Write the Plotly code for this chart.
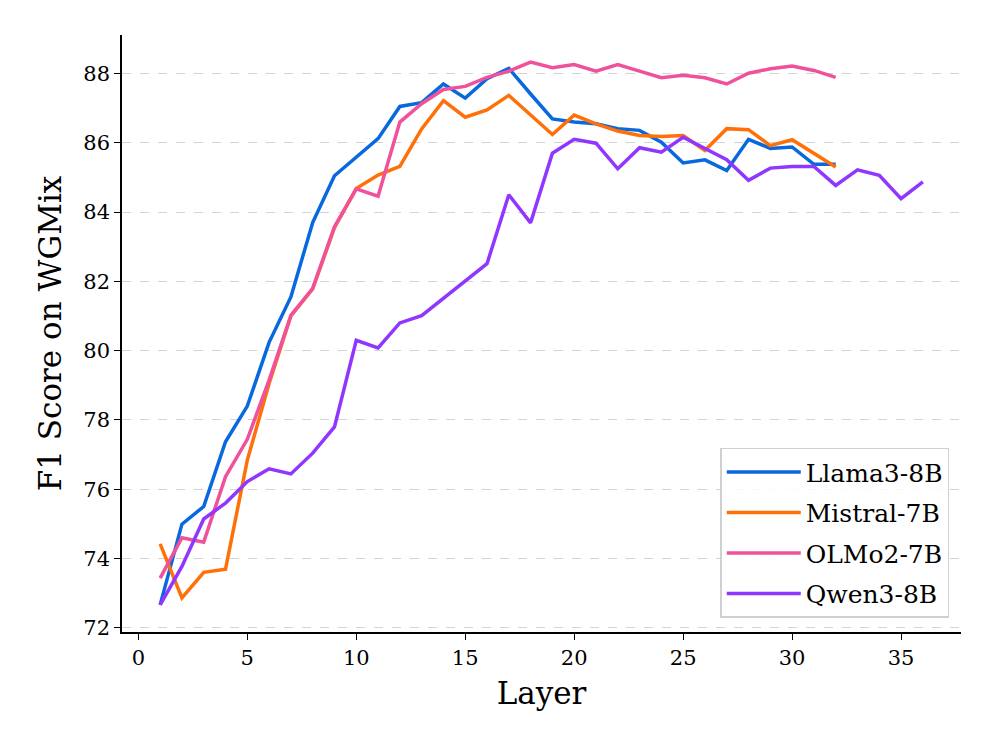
import plotly.graph_objects as go

layers_32 = list(range(1, 33))
layers_36 = list(range(1, 37))

llama = [72.66, 74.99, 75.50, 77.37, 78.40, 80.24, 81.55, 83.70, 85.05, 85.57,
         86.12, 87.05, 87.16, 87.70, 87.29, 87.85, 88.15, 87.41, 86.69, 86.60,
         86.55, 86.41, 86.36, 86.02, 85.42, 85.51, 85.20, 86.10, 85.84, 85.88,
         85.38, 85.38]
mistral = [74.42, 72.86, 73.60, 73.69, 76.84, 79.05, 81.00, 81.78, 83.55, 84.68,
           85.07, 85.32, 86.40, 87.22, 86.74, 86.95, 87.37, 86.79, 86.24, 86.80,
           86.55, 86.34, 86.21, 86.18, 86.21, 85.78, 86.41, 86.38, 85.92, 86.09,
           85.70, 85.30]
olmo = [73.43, 74.60, 74.47, 76.36, 77.44, 79.15, 81.02, 81.80, 83.58, 84.67,
        84.46, 86.60, 87.13, 87.54, 87.63, 87.89, 88.07, 88.33, 88.17, 88.26,
        88.07, 88.26, 88.07, 87.88, 87.95, 87.88, 87.70, 88.01, 88.14, 88.22,
        88.09, 87.89]
qwen = [72.66, 73.77, 75.14, 75.60, 76.22, 76.59, 76.44, 77.04, 77.80, 80.30,
        80.08, 80.80, 81.01, 81.50, 82.00, 82.51, 84.50, 83.69, 85.70, 86.10,
        85.99, 85.25, 85.86, 85.73, 86.16, 85.83, 85.51, 84.92, 85.27, 85.32,
        85.32, 84.77, 85.22, 85.06, 84.39, 84.87]

names = ["Llama3-8B", "Mistral-7B", "OLMo2-7B", "Qwen3-8B"]
colors = ["#0868DE", "#FF7008", "#EF529B", "#9136FF"]

x_ticks = [0, 5, 10, 15, 20, 25, 30, 35]
y_ticks = [72, 74, 76, 78, 80, 82, 84, 86, 88]

series = [(layers_32, llama), (layers_32, mistral), (layers_32, olmo), (layers_36, qwen)]

fig = go.Figure()
for (xs, ys), name, color in zip(series, names, colors):
    fig.add_trace(go.Scatter(x=xs, y=ys, mode="lines", name=name, legendgroup=name,
                             line=dict(color=color, width=3.5)))

all_y = llama + mistral + olmo + qwen
ymin, ymax = min(all_y), max(all_y)
ypad = (ymax - ymin) * 0.05
xmin, xmax = 1, 36
xpad = (xmax - xmin) * 0.05

font_family = "DejaVu Serif"
fig.update_layout(
    width=988, height=739,
    margin=dict(l=114, r=35, t=27, b=115),
    plot_bgcolor="white", paper_bgcolor="white",
    font=dict(family=font_family, color="black"),
    showlegend=True,
    legend=dict(
        x=0.986, y=0.024, xanchor="right", yanchor="bottom",
        bgcolor="rgba(255,255,255,0.85)", bordercolor="#d0d0d0", borderwidth=1.5,
        font=dict(family=font_family, size=25, color="black"),
        itemwidth=74, tracegroupgap=5,
    ),
    xaxis=dict(
        range=[xmin - xpad, xmax + xpad],
        tickmode="array", tickvals=x_ticks,
        ticks="outside", ticklen=6, tickwidth=1.2, tickcolor="black",
        showline=True, linecolor="black", linewidth=1.5,
        showgrid=False, zeroline=False,
        tickfont=dict(size=21, family=font_family),
        title=dict(text="Layer", font=dict(size=31, family=font_family), standoff=13),
    ),
    yaxis=dict(
        range=[ymin - ypad, ymax + ypad],
        tickmode="array", tickvals=y_ticks,
        ticks="outside", ticklen=6, tickwidth=1.2, tickcolor="black",
        showline=True, linecolor="black", linewidth=1.5,
        showgrid=True, gridcolor="#d3d3d3", griddash="dash", gridwidth=1.2,
        zeroline=False,
        tickfont=dict(size=21, family=font_family),
        title=dict(text="F1 Score on WGMix", font=dict(size=31, family=font_family), standoff=12),
    ),
)

fig.write_html("out.html")
